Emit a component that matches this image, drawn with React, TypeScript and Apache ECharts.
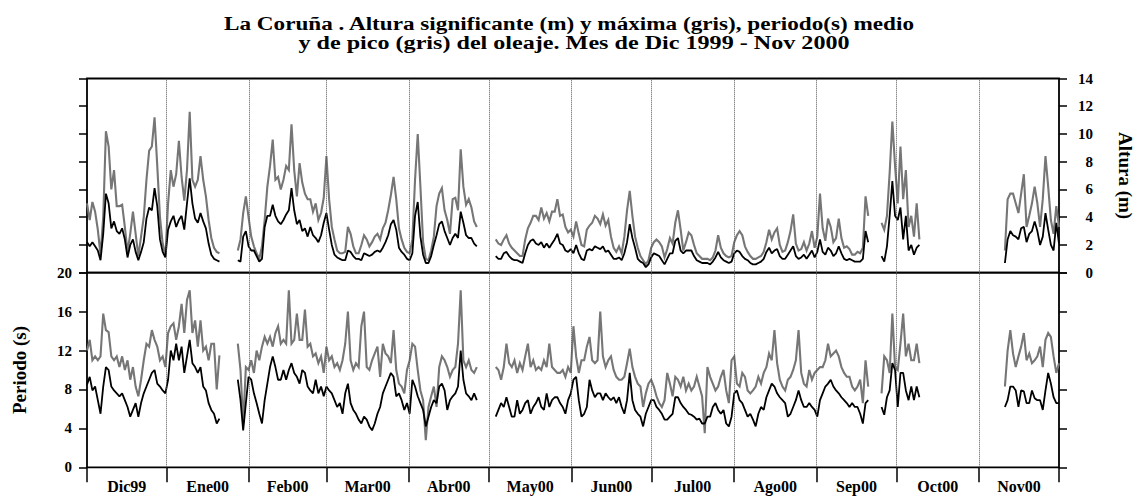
import React, { useEffect, useRef } from "react";
import * as echarts from "echarts";

// ---- Data (days counted from 1 Dec 1999 00:00) ----
const TITLE_LINES = [
  "La Coruña . Altura significante (m) y máxima (gris), periodo(s) medio",
  "y de pico (gris) del oleaje. Mes de Dic 1999 - Nov 2000",
];
const MONTH_LABELS = ["Dic99", "Ene00", "Feb00", "Mar00", "Abr00", "May00", "Jun00", "Jul00", "Ago00", "Sep00", "Oct00", "Nov00"];
const MONTH_EDGES = [1.2, 31, 62, 91, 122, 152, 183, 213, 244, 275, 305, 336, 366];
const X_MIN = 1.2;
const X_MAX = 366;

// data segments (start / end day of each continuous record)
const SEG_START = [1.2, 57.8, 154.6, 299.4, 345.7];
const SEG_END = [50.9, 147.5, 294.4, 313.6, 366];

// Significant wave height Hs (m) - black
const HS = [
  [2.2,1.9,2.2,1.9,1.6,0.9,2.8,5.7,5.0,3.2,3.7,3.0,2.8,3.2,2.4,1.1,2.0,2.4,1.5,0.9,1.5,2.2,3.9,4.7,4.5,6.1,4.8,2.4,1.5,1.1,3.1,3.7,4.1,3.3,3.8,4.1,3.1,5.0,6.8,5.0,3.9,3.6,4.3,3.7,3.2,2.1,1.3,1.0,0.9,0.8],
  [0.9,0.8,2.6,3.0,1.9,1.6,1.6,1.2,0.8,1.0,3.3,4.1,4.1,4.9,4.1,3.7,3.5,3.8,4.2,4.5,6.1,4.5,3.5,3.8,3.0,3.2,2.6,3.3,2.7,2.5,2.2,2.7,3.6,4.3,3.1,2.0,1.3,1.1,1.0,0.9,0.9,1.6,1.5,1.2,1.0,1.0,
   0.9,1.4,1.3,1.2,1.3,1.5,1.6,1.5,1.8,2.2,2.7,3.5,3.8,3.1,1.8,1.5,1.3,1.0,0.9,1.4,4.1,5.1,2.6,1.3,0.7,0.7,1.2,2.0,2.7,3.5,3.7,3.0,2.5,2.0,2.5,2.8,2.5,4.4,3.6,2.7,2.5,2.5,2.1,1.9],
  [1.2,1.0,1.0,1.4,1.5,1.2,1.0,0.9,0.9,0.8,0.7,1.4,2.0,2.3,2.4,2.1,2.0,2.2,1.8,2.1,1.8,2.1,2.4,2.8,2.1,2.0,1.6,1.5,1.7,1.4,2.0,1.4,1.0,0.9,1.6,1.7,1.6,1.9,1.8,1.7,1.9,1.5,1.6,1.3,1.0,1.0,1.1,0.9,1.4,2.2,3.5,2.5,1.8,1.0,
   0.8,0.7,0.4,0.6,1.1,1.4,1.3,1.2,0.9,0.6,1.0,1.4,1.4,2.3,2.5,1.6,1.4,1.6,1.6,1.6,1.2,0.9,0.8,0.7,0.7,0.7,0.6,0.8,1.1,1.5,1.1,0.9,0.8,0.7,0.8,1.4,1.6,1.5,1.2,1.0,0.9,0.7,0.6,0.6,0.7,0.8,1.0,1.5,1.8,1.4,1.6,1.7,1.2,1.0,1.0,1.3,1.6,1.9,1.2,1.0,1.1,1.3,1.0,1.3,1.6,1.1,1.5,2.4,1.5,1.3,1.8,1.6,1.2,1.4,1.9,1.4,1.0,0.9,1.0,0.9,0.8,0.8,0.8,1.0,3.0,2.2],
  [1.2,0.8,1.9,4.1,6.6,4.1,3.8,4.7,2.4,4.1,1.6,2.0,1.3,1.8,2.0],
  [0.7,2.4,3.0,2.7,2.6,2.4,3.2,3.3,2.2,2.8,3.0,3.7,3.0,2.0,2.6,4.3,3.1,2.0,1.6,3.6,2.1],
];

// Maximum wave height Hmax (m) - grey
const HMAX = [
  [5.0,3.8,5.1,4.4,3.1,1.3,4.0,10.2,9.1,6.0,7.4,4.8,4.8,4.9,3.3,1.5,2.8,4.4,2.8,1.2,2.6,4.0,6.7,8.8,9.1,11.2,7.7,4.0,2.1,1.2,5.0,7.4,6.2,7.1,9.5,6.9,5.2,7.4,11.6,6.7,6.2,6.7,8.4,6.7,5.5,3.8,2.5,1.8,1.5,1.4],
  [1.6,2.4,4.3,5.5,4.0,2.6,1.9,1.4,1.0,1.9,3.8,6.2,7.7,9.6,6.7,6.9,6.0,6.7,7.7,7.4,10.7,7.4,5.5,7.9,6.5,5.7,5.3,5.3,4.4,5.0,3.8,4.3,5.4,8.4,5.3,3.3,2.4,1.6,1.4,1.4,1.5,3.3,2.8,1.9,1.4,1.4,
   2.0,2.7,2.4,1.9,2.2,2.6,2.8,2.4,3.2,3.6,4.5,5.6,6.9,5.3,3.2,2.4,1.8,1.5,1.4,2.4,6.7,10.0,6.2,2.2,1.0,0.9,1.6,2.6,4.8,5.7,6.1,4.5,3.8,2.8,5.3,5.4,4.5,8.9,6.2,4.9,5.3,4.7,3.7,3.3],
  [2.4,2.1,2.0,2.4,2.7,2.1,1.8,1.6,1.4,1.2,1.2,2.4,3.2,3.6,4.1,4.1,3.8,4.7,3.9,4.3,3.7,4.4,4.4,5.3,4.1,4.2,3.3,2.9,3.1,2.6,3.7,2.8,2.0,1.9,3.1,3.4,3.6,4.1,3.9,3.5,4.2,3.4,3.8,2.6,1.8,1.5,1.9,1.4,2.6,4.5,5.9,4.1,2.6,1.8,
   1.2,0.9,0.6,0.9,1.8,2.2,2.4,2.2,1.9,1.1,1.7,2.5,2.1,3.6,4.5,3.1,1.6,2.2,2.9,2.7,2.0,1.4,1.2,1.0,1.0,1.0,0.9,1.1,1.6,2.7,1.8,1.4,1.2,1.1,1.2,2.2,2.7,3.0,2.7,1.9,1.5,1.2,1.0,1.0,1.1,1.2,1.5,2.2,3.1,2.4,2.9,3.2,2.0,1.5,1.6,2.2,3.0,4.2,2.1,1.6,1.7,2.2,1.6,2.1,3.0,1.8,2.6,5.7,3.2,2.3,3.9,3.3,2.2,2.5,3.9,2.5,1.8,1.9,1.7,1.3,1.3,1.5,1.4,1.8,5.5,4.1],
  [3.6,3.1,4.1,7.2,10.9,7.7,5.0,9.1,5.3,7.4,3.3,4.1,2.6,5.0,2.4],
  [1.6,5.3,5.7,5.7,5.0,4.3,5.7,7.1,3.3,4.1,5.0,6.2,5.0,3.3,5.3,8.4,6.2,3.8,2.8,4.8,3.3],
];

// Mean period Tm (s) - black
const TM = [
  [8.5,9.3,7.9,8.3,6.9,5.5,8.3,10.3,10.0,8.3,7.9,7.6,7.3,7.6,6.9,6.2,5.2,5.9,6.6,5.2,6.6,7.6,8.3,9.0,9.7,10.0,8.6,8.3,7.9,7.6,9.0,12.0,11.0,12.7,11.0,12.4,9.7,11.4,13.1,10.7,10.3,9.7,10.3,8.3,7.9,6.6,5.9,5.5,4.5,5.0],
  [9.0,6.9,3.8,6.6,9.3,9.0,7.6,6.6,5.5,4.5,6.9,8.6,10.3,11.4,10.3,9.0,9.0,10.0,9.0,10.0,10.7,9.7,9.3,8.6,
   10.0,9.7,8.3,7.9,7.6,9.0,7.6,8.3,7.3,8.3,7.9,7.6,6.9,6.2,6.6,5.5,7.6,8.6,6.6,5.9,5.5,4.9,4.5,5.2,4.9,4.2,3.8,4.5,5.5,6.2,7.6,8.3,9.0,9.7,9.3,7.3,7.6,6.9,5.9,6.6,5.5,9.0,8.3,7.3,6.6,5.9,4.2,5.2,6.2,6.9,6.6,8.3,8.6,7.9,5.9,6.9,7.3,7.6,8.3,12.0,9.0,7.6,7.3,6.9,7.6,6.9],
  [5.2,5.9,6.6,6.2,7.2,6.2,5.2,5.2,6.9,5.5,5.9,6.6,6.9,5.5,6.2,6.6,7.2,6.2,5.9,7.6,6.2,6.9,7.2,7.2,6.6,6.2,5.5,6.9,7.6,9.0,9.3,6.9,
   5.2,5.5,6.2,9.0,7.9,7.2,7.6,7.6,6.9,7.6,7.2,6.9,7.2,6.6,7.2,6.2,5.5,6.9,9.7,6.9,5.9,5.5,5.2,4.2,5.5,6.2,6.9,6.9,6.2,5.9,5.5,4.9,4.9,5.2,5.5,7.2,7.2,6.6,6.2,5.9,5.5,5.4,5.2,4.9,5.0,4.5,4.5,5.2,5.2,6.2,6.6,5.9,5.5,5.9,4.5,4.2,5.2,7.6,7.9,6.9,6.6,5.9,5.2,5.5,4.9,4.2,5.5,6.2,5.9,7.2,7.9,8.6,8.3,7.6,7.2,6.9,6.6,5.2,5.5,6.2,6.9,7.9,6.9,6.2,6.2,6.6,6.2,5.9,5.2,6.9,7.6,8.3,8.6,9.0,8.3,7.9,7.6,7.2,6.9,6.6,6.2,6.6,6.2,6.2,
   5.5,4.5,6.6,6.9],
  [6.2,5.4,7.2,7.9,10.7,10.0,6.2,9.7,9.7,7.9,6.9,8.3,6.9,8.3,7.2],
  [6.2,6.9,8.3,8.3,7.9,6.2,7.9,7.8,6.6,6.6,7.9,7.1,6.9,6.9,5.9,7.9,9.7,8.6,7.2,6.6,6.6],
];

// Peak period Tp (s) - grey
const TP = [
  [12.0,13.1,11.0,11.4,11.0,11.4,15.8,14.1,13.9,11.4,11.0,11.4,10.3,11.4,10.0,11.0,9.0,10.3,8.3,7.3,9.0,11.0,12.7,12.4,14.1,13.1,12.4,11.0,11.4,10.3,13.8,14.5,14.8,13.1,14.5,16.8,13.8,17.2,18.2,13.8,15.1,12.4,15.1,12.0,12.4,11.0,12.7,12.7,8.0,11.5],
  [12.7,10.0,4.5,10.3,10.0,11.0,9.7,12.0,11.0,12.4,13.4,12.7,13.4,12.4,13.8,14.5,12.7,13.1,12.7,18.2,12.7,13.1,15.8,13.1,
   13.1,16.2,12.4,12.7,11.4,11.7,10.7,11.4,9.7,12.4,11.0,11.4,10.3,10.7,10.0,11.0,12.7,16.0,11.0,10.0,10.7,10.3,14.5,16.0,10.3,10.0,11.0,11.7,12.4,9.3,12.7,11.7,11.4,10.7,14.1,10.0,8.6,8.3,7.6,10.0,11.0,12.7,12.4,10.0,7.9,6.9,2.8,6.2,7.3,8.3,6.2,10.3,11.4,11.0,10.3,9.3,10.0,10.3,12.7,18.2,11.0,10.3,11.0,10.0,9.7,10.3],
  [10.3,10.0,9.0,10.3,12.7,10.7,10.3,11.0,9.7,10.7,10.0,11.4,12.7,10.3,11.0,10.0,10.3,10.0,11.0,10.3,12.7,10.3,10.0,9.7,9.7,10.0,9.3,10.3,9.7,14.5,11.4,9.7,
   11.0,11.0,12.4,13.4,11.0,10.7,11.0,16.0,11.4,10.3,11.0,11.4,10.0,9.3,9.0,9.0,9.3,10.7,12.2,10.3,9.3,8.6,8.3,6.2,7.6,8.6,9.0,8.3,7.3,6.6,6.2,6.9,9.7,8.6,7.3,9.3,9.0,8.3,9.3,7.9,8.6,7.9,8.3,9.3,8.3,7.3,3.5,10.3,9.3,8.6,7.9,8.3,9.3,10.0,7.9,6.6,11.0,11.4,8.6,8.3,9.7,9.3,7.9,7.6,7.9,8.3,9.3,8.6,9.7,10.3,11.7,11.0,14.1,10.7,9.0,8.3,7.9,9.0,9.3,10.0,11.0,14.1,9.7,8.6,8.3,10.0,9.0,9.7,10.0,10.3,10.3,11.0,12.7,11.4,11.7,12.0,11.4,10.3,9.7,9.3,9.3,8.3,7.9,8.3,
   9.0,6.6,11.0,8.3],
  [7.6,11.4,11.0,9.7,15.8,10.3,10.0,12.7,15.8,11.4,12.7,11.0,11.0,12.7,10.7],
  [8.3,12.0,14.1,11.7,10.3,11.4,12.4,13.8,11.0,11.7,10.7,11.0,11.4,12.4,10.3,13.1,13.8,13.4,11.4,9.7,10.7],
];

const FONT = '"Liberation Serif", "Times New Roman", Times, serif';

function buildData(segs: number[][]) {
  const out: any[] = [];
  segs.forEach((vals, s) => {
    const a = SEG_START[s];
    const b = SEG_END[s];
    const step = (b - a) / (vals.length - 1);
    vals.forEach((v, i) => out.push([a + i * step, v]));
    if (s < segs.length - 1) out.push([(b + SEG_START[s + 1]) / 2, "-"]);
  });
  return out;
}

const MONTH_MIDS = MONTH_LABELS.map((_, i) => (MONTH_EDGES[i] + MONTH_EDGES[i + 1]) / 2);
const DOTTED = MONTH_EDGES.slice(1, -1).map((v) => ({ xAxis: v }));

export default function App() {
  const ref = useRef<HTMLDivElement>(null);

  useEffect(() => {
    if (!ref.current) return;
    const chart = echarts.init(ref.current, undefined, { renderer: "svg" });

    const tickStyle = { color: "#000", width: 1.5 };
    const labelStyle = { fontFamily: FONT, fontWeight: "bold" as const, fontSize: 15, color: "#000" };
    const markLine = {
      silent: true,
      symbol: ["none", "none"],
      label: { show: false },
      lineStyle: { type: "dotted" as const, color: "#555", width: 1 },
      data: DOTTED,
    };
    const titleFont = `bold 19px ${FONT}`;

    const option: any = {
      animation: false,
      backgroundColor: "#fff",
      textStyle: { fontFamily: FONT },
      graphic: [
        {
          type: "text",
          x: 569,
          y: 23.5,
          scaleX: 1.22,
          style: { text: TITLE_LINES[0], font: titleFont, fill: "#000", align: "center", verticalAlign: "middle" },
        },
        {
          type: "text",
          x: 574,
          y: 42.5,
          scaleX: 1.27,
          style: { text: TITLE_LINES[1], font: titleFont, fill: "#000", align: "center", verticalAlign: "middle" },
        },
      ],
      grid: [
        { left: 87, top: 78.5, width: 972, height: 194.2, show: true, borderColor: "#000", borderWidth: 1.8, backgroundColor: "transparent" },
        { left: 87, top: 272.7, width: 972, height: 194.6, show: true, borderColor: "#000", borderWidth: 1.8, backgroundColor: "transparent" },
      ],
      xAxis: [
        {
          gridIndex: 0, type: "value", min: X_MIN, max: X_MAX,
          axisLine: { show: false }, axisTick: { show: false }, axisLabel: { show: false }, splitLine: { show: false },
        },
        {
          gridIndex: 1, type: "value", min: X_MIN, max: X_MAX,
          axisLine: { show: false },
          axisTick: { show: true, customValues: MONTH_EDGES, length: 15, lineStyle: tickStyle },
          axisLabel: {
            ...labelStyle,
            fontSize: 16,
            customValues: MONTH_MIDS,
            margin: 11,
            formatter: (v: number) => {
              const i = MONTH_MIDS.findIndex((m) => Math.abs(m - v) < 1e-6);
              return i >= 0 ? MONTH_LABELS[i] : "";
            },
          },
          splitLine: { show: false },
        },
      ],
      yAxis: [
        {
          gridIndex: 0, type: "value", position: "right", min: 0, max: 14, interval: 2,
          axisLine: { show: false },
          axisTick: { show: true, length: 8, lineStyle: tickStyle },
          axisLabel: { ...labelStyle, align: "right", margin: 34 },
          splitLine: { show: false },
          name: "Altura (m)", nameLocation: "middle", nameRotate: -90, nameGap: 57,
          nameTextStyle: { fontFamily: FONT, fontWeight: "bold", fontSize: 19, color: "#000" },
        },
        {
          gridIndex: 0, type: "value", position: "left", min: 0, max: 14, interval: 2,
          axisLine: { show: false },
          axisTick: { show: true, length: 8, lineStyle: tickStyle },
          axisLabel: { show: false }, splitLine: { show: false },
        },
        {
          gridIndex: 1, type: "value", position: "left", min: 0, max: 20, interval: 4,
          axisLine: { show: false },
          axisTick: { show: true, length: 8, lineStyle: tickStyle },
          axisLabel: { ...labelStyle, margin: 15 },
          splitLine: { show: false },
          name: "Periodo (s)", nameLocation: "middle", nameRotate: 90, nameGap: 58,
          nameTextStyle: { fontFamily: FONT, fontWeight: "bold", fontSize: 19, color: "#000" },
        },
        {
          gridIndex: 1, type: "value", position: "right", min: 0, max: 20, interval: 4,
          axisLine: { show: false },
          axisTick: { show: true, length: 8, lineStyle: tickStyle },
          axisLabel: { show: false }, splitLine: { show: false },
        },
      ],
      series: [
        {
          name: "Hmax", type: "line", xAxisIndex: 0, yAxisIndex: 0, data: buildData(HMAX),
          showSymbol: false, symbol: "none", silent: true,
          lineStyle: { color: "#767676", width: 2.1, join: "miter" }, markLine,
        },
        {
          name: "Hs", type: "line", xAxisIndex: 0, yAxisIndex: 0, data: buildData(HS),
          showSymbol: false, symbol: "none", silent: true,
          lineStyle: { color: "#000", width: 1.8 },
        },
        {
          name: "Tp", type: "line", xAxisIndex: 1, yAxisIndex: 2, data: buildData(TP),
          showSymbol: false, symbol: "none", silent: true,
          lineStyle: { color: "#767676", width: 2.1, join: "miter" }, markLine,
        },
        {
          name: "Tm", type: "line", xAxisIndex: 1, yAxisIndex: 2, data: buildData(TM),
          showSymbol: false, symbol: "none", silent: true,
          lineStyle: { color: "#000", width: 1.8 },
        },
      ],
    };

    chart.setOption(option);
    return () => chart.dispose();
  }, []);

  return <div ref={ref} style={{ position: "fixed", left: 0, top: 0, width: 1143, height: 499 }} />;
}
